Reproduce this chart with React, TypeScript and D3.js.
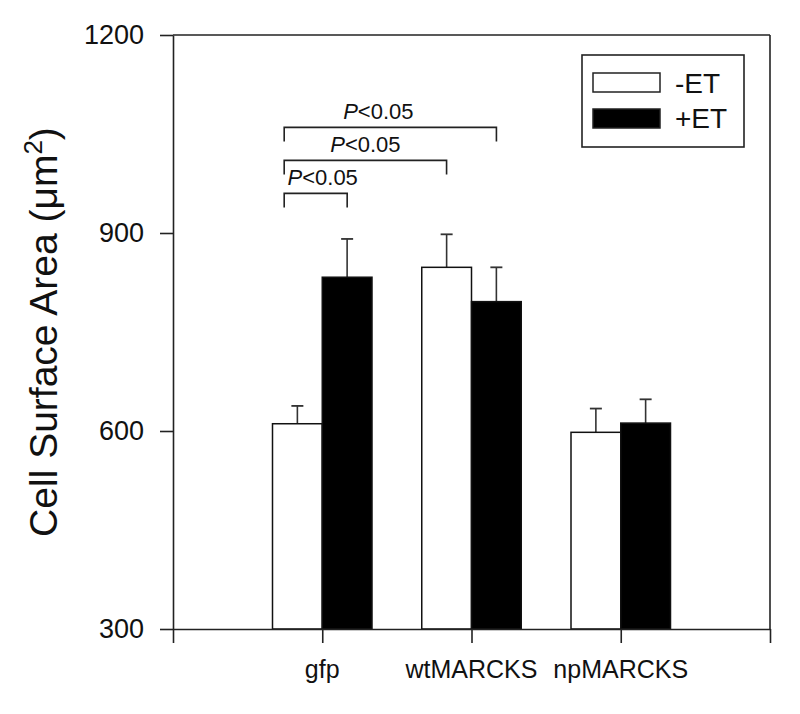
import { axisBottom, axisLeft, format, scaleLinear, select, ScaleLinear } from "d3";
import { useEffect, useRef } from "react";

const categories = ["gfp", "wtMARCKS", "npMARCKS"];
const minusET = [611, 848, 598];
const minusErr = [27, 50, 36];
const plusET = [833, 796, 612];
const plusErr = [58, 52, 36];
const yTicks = [300, 600, 900, 1200];
const legendLabels = ["-ET", "+ET"];
// significance brackets: from/to in x-domain units, level in y units
const brackets = [
  { from: 0.745, to: 2.167, level: 1060, label: "<0.05", shift: -12 },
  { from: 0.745, to: 1.833, level: 1010, label: "<0.05", shift: 0 },
  { from: 0.745, to: 1.167, level: 960, label: "<0.05", shift: 7 },
];

const FONT = "'Liberation Sans', Arial, sans-serif";

function YAxis({ scale, x }: { scale: ScaleLinear<number, number>; x: number }) {
  const ref = useRef<SVGGElement>(null);
  useEffect(() => {
    if (ref.current) {
      const g = select(ref.current);
      g.call(
        axisLeft(scale)
          .tickValues(yTicks)
          .tickFormat(format("d"))
          .tickSize(13)
          .tickSizeOuter(0)
          .tickPadding(16)
      );
      g.selectAll("text").attr("font-size", 27).attr("font-family", FONT).attr("fill", "#111");
      g.selectAll("line,path").attr("stroke", "#222").attr("stroke-width", 1.6);
    }
  }, [scale]);
  return <g ref={ref} transform={`translate(${x},0)`} />;
}

function XAxis({ scale, y }: { scale: ScaleLinear<number, number>; y: number }) {
  const ref = useRef<SVGGElement>(null);
  useEffect(() => {
    if (ref.current) {
      const g = select(ref.current);
      g.call(
        axisBottom(scale).tickValues([0, 1, 2, 3, 4]).tickSize(14).tickSizeOuter(0).tickFormat(() => "")
      );
      g.selectAll("line,path").attr("stroke", "#222").attr("stroke-width", 1.6);
    }
  }, [scale]);
  return <g ref={ref} transform={`translate(0,${y})`} />;
}

export default function App() {
  const left = 173;
  const right = 770;
  const top = 35;
  const bottom = 629;

  const x = scaleLinear().domain([0, 4]).range([left, right]);
  const y = scaleLinear().domain([300, 1200]).range([bottom, top]);
  const bw = x(1 / 3) - x(0);
  const cap = 6;

  const series = [
    { values: minusET, errs: minusErr, fill: "#fff", offset: -1 / 3 },
    { values: plusET, errs: plusErr, fill: "#000", offset: 0 },
  ];

  return (
    <svg
      width={800}
      height={714}
      style={{ position: "absolute", left: 0, top: 0, background: "#fff" }}
    >
      {/* bars + error bars */}
      {series.map((s, si) =>
        categories.map((c, i) => {
          const x0 = x(i + 1 + s.offset);
          const cx = x0 + bw / 2;
          const yt = y(s.values[i]);
          const ye = y(s.values[i] + s.errs[i]);
          return (
            <g key={`${si}-${c}`}>
              <line x1={cx} x2={cx} y1={yt} y2={ye} stroke="#333" strokeWidth={1.6} />
              <line x1={cx - cap} x2={cx + cap} y1={ye} y2={ye} stroke="#333" strokeWidth={1.8} />
              <rect
                x={x0}
                y={yt}
                width={bw}
                height={y(300) - yt}
                fill={s.fill}
                stroke="#111"
                strokeWidth={1.5}
              />
            </g>
          );
        })
      )}

      {/* frame */}
      <line x1={left} x2={right} y1={top} y2={top} stroke="#222" strokeWidth={1.6} />
      <line x1={right} x2={right} y1={top} y2={bottom} stroke="#222" strokeWidth={1.6} />
      <YAxis scale={y} x={left} />
      <XAxis scale={x} y={bottom} />

      {/* category labels */}
      {categories.map((c, i) => (
        <text
          key={c}
          x={x(i + 1)}
          y={678}
          textAnchor="middle"
          fontFamily={FONT}
          fontSize={25}
          fill="#111"
        >
          {c}
        </text>
      ))}

      {/* y label */}
      <text
        transform={`translate(57,${(top + bottom) / 2}) rotate(-90)`}
        textAnchor="middle"
        fontFamily={FONT}
        fontSize={39}
        fill="#111"
      >
        Cell Surface Area (μm
        <tspan fontSize={26} dy={-15}>2</tspan>
        <tspan dy={15}>)</tspan>
      </text>

      {/* significance brackets */}
      {brackets.map((b, i) => {
        const x1 = x(b.from);
        const x2 = x(b.to);
        const yy = y(b.level);
        return (
          <g key={i} stroke="#222" strokeWidth={1.6} fill="none">
            <path d={`M${x1},${yy + 14}V${yy}H${x2}V${yy + 14}`} />
            <text
              x={(x1 + x2) / 2 + b.shift}
              y={yy - 8}
              textAnchor="middle"
              fontFamily={FONT}
              fontSize={22}
              fill="#111"
              stroke="none"
            >
              <tspan fontStyle="italic">P</tspan>
              {b.label}
            </text>
          </g>
        );
      })}

      {/* legend */}
      <rect x={582} y={55} width={162} height={92} fill="#fff" stroke="#222" strokeWidth={1.6} />
      {legendLabels.map((l, i) => (
        <g key={l}>
          <rect
            x={593}
            y={73 + i * 36}
            width={67}
            height={19}
            fill={series[i].fill}
            stroke="#222"
            strokeWidth={1.5}
          />
          <text x={675} y={93 + i * 35} fontFamily={FONT} fontSize={28} fill="#111">
            {l}
          </text>
        </g>
      ))}
    </svg>
  );
}
